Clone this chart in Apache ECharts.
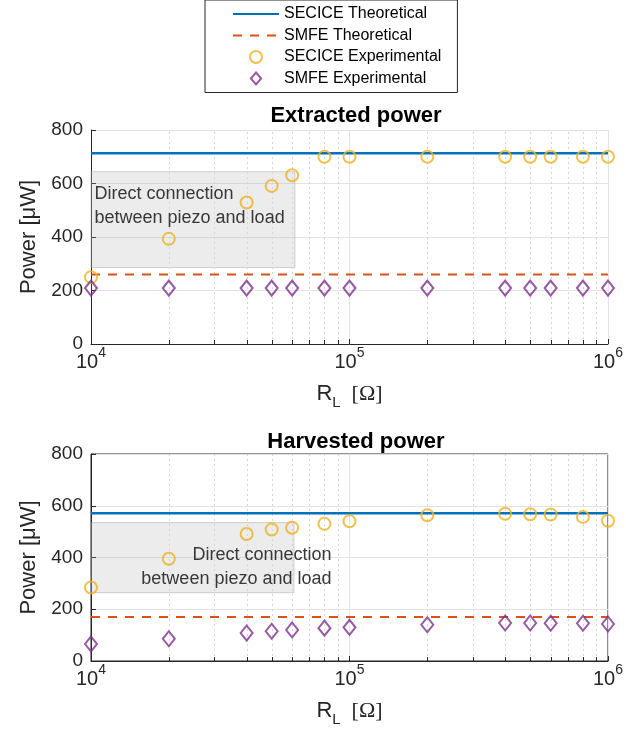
<!DOCTYPE html>
<html>
<head>
<meta charset="utf-8">
<script src="https://cdn.jsdelivr.net/npm/echarts@6/dist/echarts.min.js"></script>
<style>
html,body{margin:0;padding:0;background:#fff;}
#chart{width:626px;height:736px;}
</style>
</head>
<body>
<div id="chart"></div>
<script>
// ---- data ----
const seriesNames = ['SECICE Theoretical', 'SMFE Theoretical', 'SECICE Experimental', 'SMFE Experimental'];
const rValues = [1e4, 2e4, 4e4, 5e4, 6e4, 8e4, 1e5, 2e5, 4e5, 5e5, 6e5, 8e5, 1e6];
const theoryX = [1e4, 1e6];

const extSeciceTheory = [713, 713];
const extSmfeTheory = [260, 260];
const extSeciceExp = [250, 393, 529, 591, 631, 700, 700, 700, 700, 700, 700, 700, 700];
const extSmfeExp = [209, 209, 209, 209, 209, 209, 209, 209, 209, 209, 209, 209, 209];

const harvSeciceTheory = [571, 571];
const harvSmfeTheory = [170, 170];
const harvSeciceExp = [284, 395, 491, 508, 515, 530, 540, 563, 569, 567, 566, 557, 542];
const harvSmfeExp = [66, 86, 108, 115, 120, 127, 130, 140, 147, 147, 146, 146, 143];

const xLimits = [1e4, 1e6];
const yTickValues = [0, 200, 400, 600, 800];
const minorX = [2e4, 3e4, 4e4, 5e4, 6e4, 7e4, 8e4, 9e4, 2e5, 3e5, 4e5, 5e5, 6e5, 7e5, 8e5, 9e5];

const boxText = 'Direct connection\nbetween piezo and load';
const extBoxX = [1e4, 6.15e4];
const extBoxY = [286, 644];
const harvBoxX = [1e4, 6.1e4];
const harvBoxY = [264, 535];

const titles = ['Extracted power', 'Harvested power'];

// ---- styles ----
const FONT = '"Liberation Sans", Arial, Helvetica, sans-serif';
const AX = '#262626';
const GRIDC = '#e3e3e3';
const C_BLUE = '#0072BD', C_ORANGE = '#D95319', C_YEL = '#EDB120', C_PURP = '#7E2F8E';

const yMin = yTickValues[0], yMax = yTickValues[yTickValues.length - 1];
const yInterval = yTickValues[1] - yTickValues[0];

function pairs(xs, ys) { return xs.map((x, i) => [x, ys[i]]); }

function xAxisFor(i) {
  return {
    type: 'log', logBase: 10, gridIndex: i, min: xLimits[0], max: xLimits[1],
    axisLine: { show: true, onZero: false, lineStyle: { color: AX, width: 1 } },
    axisTick: { show: true, inside: true, length: 5, lineStyle: { color: AX } },
    axisLabel: {
      margin: 8, color: AX, fontFamily: FONT,
      formatter: v => '{b|10}{s|' + Math.round(Math.log10(v)) + '}',
      rich: {
        b: { fontSize: 20, lineHeight: 20, fontFamily: FONT, color: AX, verticalAlign: 'bottom' },
        s: { fontSize: 14, lineHeight: 14, fontFamily: FONT, color: AX, verticalAlign: 'bottom', padding: [0, 0, 12, 0] }
      }
    },
    splitLine: { show: true, lineStyle: { color: GRIDC, width: 1 } },
    name: '{a|R}{l|L}{o|  [Ω]}', nameLocation: 'middle', nameGap: 39,
    nameTextStyle: {
      rich: {
        a: { fontSize: 22, lineHeight: 22, fontFamily: FONT, color: AX, verticalAlign: 'top' },
        l: { fontSize: 15, lineHeight: 15, fontFamily: FONT, color: AX, verticalAlign: 'top', padding: [12, 0, 0, 0] },
        o: { fontSize: 22, lineHeight: 22, fontFamily: '"Liberation Serif", "Times New Roman", serif', color: AX, verticalAlign: 'top' }
      }
    }
  };
}
function yAxisFor(i) {
  return {
    type: 'value', gridIndex: i, min: yMin, max: yMax, interval: yInterval,
    axisLine: { show: true, lineStyle: { color: AX, width: 1 } },
    axisTick: { show: true, inside: true, length: 5, lineStyle: { color: AX } },
    axisLabel: { fontSize: 19, margin: 8, color: AX, fontFamily: FONT },
    splitLine: { show: true, lineStyle: { color: GRIDC, width: 1 } },
    name: 'Power [μW]', nameLocation: 'middle', nameGap: 50,
    nameTextStyle: { fontSize: 22, color: AX, fontFamily: FONT }
  };
}

function minorSeries(i) {
  return {
    type: 'custom', name: 'minor', xAxisIndex: i, yAxisIndex: i, silent: true, z: 1,
    data: minorX.map(v => [v, yMin]),
    renderItem: function (params, api) {
      const x = api.value(0);
      const b = api.coord([x, yMin]);
      const t = api.coord([x, yMax]);
      const px = Math.round(b[0]) + 0.5;
      return {
        type: 'group', children: [
          { type: 'line', shape: { x1: px, y1: b[1], x2: px, y2: t[1] }, style: { stroke: '#d6d6d6', lineWidth: 1, lineDash: [2, 3] } },
          { type: 'line', shape: { x1: px, y1: b[1], x2: px, y2: b[1] - 4 }, style: { stroke: AX, lineWidth: 1 } }
        ]
      };
    }
  };
}

function plotSeries(i, secTh, smfeTh, secExp, smfeExp, boxX, boxY, labelCfg) {
  return [
    minorSeries(i),
    {
      type: 'line', name: seriesNames[0], xAxisIndex: i, yAxisIndex: i, symbol: 'none', z: 3,
      data: pairs(theoryX, secTh), lineStyle: { color: C_BLUE, width: 2.6 }, itemStyle: { color: C_BLUE, opacity: 0 },
      markArea: {
        silent: true,
        itemStyle: { color: 'rgba(180,180,180,0.25)', borderColor: 'rgba(160,160,160,0.45)', borderWidth: 1, opacity: 1 },
        label: Object.assign({ show: true, fontSize: 18, lineHeight: 24, color: '#383838', fontFamily: FONT }, labelCfg),
        data: [[{ name: boxText, xAxis: boxX[0], yAxis: boxY[0] }, { xAxis: boxX[1], yAxis: boxY[1] }]]
      }
    },
    {
      type: 'line', name: seriesNames[1], xAxisIndex: i, yAxisIndex: i, symbol: 'none', z: 3,
      data: pairs(theoryX, smfeTh), lineStyle: { color: C_ORANGE, width: 2, type: [9, 8] }, itemStyle: { color: C_ORANGE, opacity: 0 }
    },
    {
      type: 'scatter', name: seriesNames[2], xAxisIndex: i, yAxisIndex: i, symbol: 'circle', symbolSize: 12, symbolKeepAspect: true, clip: false, z: 4,
      data: pairs(rValues, secExp), itemStyle: { color: 'rgba(255,255,255,0)', borderColor: C_YEL, borderWidth: 2 }
    },
    {
      type: 'scatter', name: seriesNames[3], xAxisIndex: i, yAxisIndex: i, symbol: 'diamond', symbolSize: [12, 15], symbolKeepAspect: true, clip: false, z: 4,
      data: pairs(rValues, smfeExp), itemStyle: { color: 'rgba(255,255,255,0)', borderColor: C_PURP, borderWidth: 2 }
    }
  ];
}

const chart = echarts.init(document.getElementById('chart'), null, { renderer: 'canvas' });
const option = {
  animation: false,
  backgroundColor: '#fff',
  textStyle: { fontFamily: FONT },
  title: [
    { text: titles[0], left: 351, top: 100, textAlign: 'center', textStyle: { fontSize: 22, fontWeight: 'bold', color: '#000', fontFamily: FONT } },
    { text: titles[1], left: 351, top: 426, textAlign: 'center', textStyle: { fontSize: 22, fontWeight: 'bold', color: '#000', fontFamily: FONT } }
  ],
  legend: {
    data: [
      { name: seriesNames[0], itemStyle: { opacity: 0 } },
      { name: seriesNames[1], itemStyle: { opacity: 0 } },
      { name: seriesNames[2], itemStyle: { borderWidth: 2 } },
      { name: seriesNames[3], icon: 'path://M6,0L12,7L6,14L0,7Z', itemStyle: { color: 'rgba(255,255,255,0)', borderColor: C_PURP, borderWidth: 2 } }
    ],
    orient: 'vertical', left: 205, top: 0,
    padding: [4, 16, 4, 27], itemWidth: 46, itemHeight: 12, itemGap: 1.5,
    textStyle: { fontSize: 16, lineHeight: 20, color: '#000', fontFamily: FONT },
    borderColor: AX, borderWidth: 1, backgroundColor: '#fff'
  },
  grid: [
    { left: 91, top: 130, width: 521, height: 214 },
    { left: 91, top: 454, width: 520, height: 207, show: true, borderColor: AX, borderWidth: 1, backgroundColor: 'rgba(0,0,0,0)' }
  ],
  xAxis: [xAxisFor(0), xAxisFor(1)],
  yAxis: [yAxisFor(0), yAxisFor(1)],
  series: [].concat(
    plotSeries(0, extSeciceTheory, extSmfeTheory, extSeciceExp, extSmfeExp, extBoxX, extBoxY,
      { position: 'insideTopLeft', distance: 4, offset: [0, 7], align: 'left' }),
    plotSeries(1, harvSeciceTheory, harvSmfeTheory, harvSeciceExp, harvSmfeExp, harvBoxX, harvBoxY,
      { position: 'insideRight', distance: 0, offset: [37, 9], align: 'right' })
  )
};
chart.setOption(option);
</script>
</body>
</html>
